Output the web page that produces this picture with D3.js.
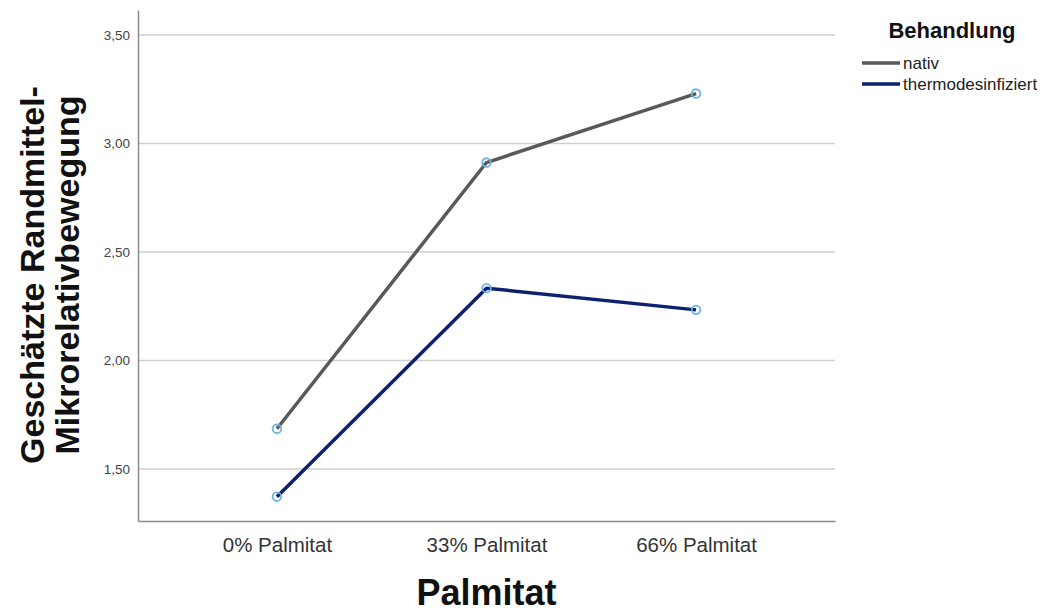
<!DOCTYPE html>
<html>
<head>
<meta charset="utf-8">
<script src="https://cdn.jsdelivr.net/npm/d3@7"></script>
<style>
  html, body { margin: 0; padding: 0; background: #fff; }
  svg { display: block; }
</style>
</head>
<body>
<svg id="chart" width="1042" height="612"></svg>
<script>
// Estimated marginal means of micro relative movement
const categories = ["0% Palmitat", "33% Palmitat", "66% Palmitat"];
const seriesNames = ["nativ", "thermodesinfiziert"];
const nativValues = [1.685, 2.912, 3.230];
const thermoValues = [1.372, 2.333, 2.233];
const yTicks = [1.5, 2.0, 2.5, 3.0, 3.5];

const seriesColors = ["#595959", "#0c2270"];
const series = [
  { name: seriesNames[0], values: nativValues, color: seriesColors[0] },
  { name: seriesNames[1], values: thermoValues, color: seriesColors[1] }
];

const svg = d3.select("#chart");
const plot = { left: 138, right: 835, top: 10, bottom: 521 };

const x = d3.scalePoint()
  .domain(categories)
  .range([plot.left, plot.right])
  .padding(0.663);

const y = d3.scaleLinear()
  .domain([1.26, 3.615])
  .range([plot.bottom, plot.top]);

const fmt = v => d3.format(".2f")(v).replace(".", ",");

// horizontal grid lines
svg.append("g")
  .selectAll("line")
  .data(yTicks)
  .join("line")
  .attr("x1", plot.left)
  .attr("x2", plot.right)
  .attr("y1", d => y(d))
  .attr("y2", d => y(d))
  .attr("stroke", "#cfcfcf")
  .attr("stroke-width", 1.5);

// y axis
const yAxis = svg.append("g")
  .attr("transform", `translate(${plot.left},0)`)
  .call(d3.axisLeft(y).tickValues(yTicks).tickFormat(fmt).tickSize(0).tickPadding(8));
yAxis.select(".domain").attr("stroke", "#8a8a8a").attr("stroke-width", 1.5);
yAxis.selectAll("text")
  .attr("font-family", "Liberation Sans, Arial, sans-serif")
  .attr("font-size", 13.5)
  .attr("fill", "#444");

// x axis
const xAxis = svg.append("g")
  .attr("transform", `translate(0,${plot.bottom})`)
  .call(d3.axisBottom(x).tickSize(0).tickPadding(16));
xAxis.select(".domain").attr("stroke", "#8a8a8a").attr("stroke-width", 1.5);
xAxis.selectAll("text")
  .attr("font-family", "Liberation Sans, Arial, sans-serif")
  .attr("font-size", 20.5)
  .attr("fill", "#333");

// series lines
const line = d3.line()
  .x((d, i) => x(categories[i]))
  .y(d => y(d));

svg.append("g")
  .selectAll("path")
  .data(series)
  .join("path")
  .attr("d", d => line(d.values))
  .attr("fill", "none")
  .attr("stroke", d => d.color)
  .attr("stroke-width", 3.5)
  .attr("stroke-linejoin", "round");

// point markers
series.forEach(s => {
  svg.append("g")
    .selectAll("circle")
    .data(s.values)
    .join("circle")
    .attr("cx", (d, i) => x(categories[i]))
    .attr("cy", d => y(d))
    .attr("r", 4.3)
    .attr("fill", "none")
    .attr("stroke", "#6fb2e0")
    .attr("stroke-width", 1.8);
});

// axis titles
svg.append("text")
  .attr("x", (plot.left + plot.right) / 2)
  .attr("y", 605)
  .attr("text-anchor", "middle")
  .attr("font-family", "Liberation Sans, Arial, sans-serif")
  .attr("font-weight", "bold")
  .attr("font-size", 36)
  .attr("fill", "#111")
  .text("Palmitat");

const yTitle = svg.append("text")
  .attr("transform", "translate(0,275) rotate(-90)")
  .attr("text-anchor", "middle")
  .attr("font-family", "Liberation Sans, Arial, sans-serif")
  .attr("font-weight", "bold")
  .attr("font-size", 34)
  .attr("fill", "#111");
yTitle.append("tspan").attr("x", 0).attr("y", 44).text("Geschätzte Randmittel-");
yTitle.append("tspan").attr("x", 0).attr("y", 79).text("Mikrorelativbewegung");

// legend
const legend = svg.append("g");
legend.append("text")
  .attr("x", 952)
  .attr("y", 38)
  .attr("text-anchor", "middle")
  .attr("font-family", "Liberation Sans, Arial, sans-serif")
  .attr("font-weight", "bold")
  .attr("font-size", 22)
  .attr("fill", "#111")
  .text("Behandlung");

const items = legend.selectAll("g.item")
  .data(series)
  .join("g")
  .attr("class", "item")
  .attr("transform", (d, i) => `translate(862,${63 + i * 21})`);
items.append("line")
  .attr("x1", 0).attr("x2", 38)
  .attr("stroke", d => d.color)
  .attr("stroke-width", 3.5);
items.append("text")
  .attr("x", 41)
  .attr("y", 5.5)
  .attr("font-family", "Liberation Sans, Arial, sans-serif")
  .attr("font-size", 17)
  .attr("fill", "#222")
  .text(d => d.name);
</script>
</body>
</html>
